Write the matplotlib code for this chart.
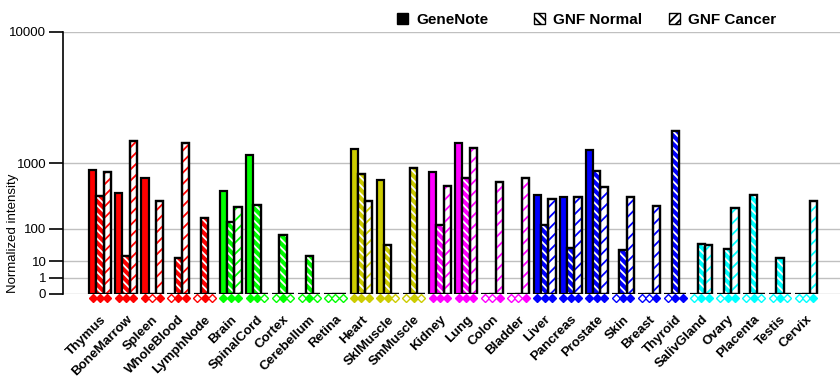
import numpy as np
import matplotlib
matplotlib.use('Agg')
import matplotlib.pyplot as plt
from matplotlib.patches import Patch

plt.rcParams['font.family'] = ['Liberation Sans', 'DejaVu Sans']
plt.rcParams['hatch.linewidth'] = 1.3

tissues = ['Thymus', 'BoneMarrow', 'Spleen', 'WholeBlood', 'LymphNode', 'Brain',
           'SpinalCord', 'Cortex', 'Cerebellum', 'Retina', 'Heart', 'SklMuscle',
           'SmMuscle', 'Kidney', 'Lung', 'Colon', 'Bladder', 'Liver', 'Pancreas',
           'Prostate', 'Skin', 'Breast', 'Thyroid', 'SalivGland', 'Ovary',
           'Placenta', 'Testis', 'Cervix']
colors = ['#ff0000'] * 5 + ['#00ff00'] * 5 + ['#cccc00'] * 3 + ['#ff00ff'] * 4 + \
         ['#0000ff'] * 6 + ['#00ffff'] * 5

genenote = [826, 422, 664, 0, 0, 452, 1212, 0, 0, 0, 1395, 632, 0, 783, 1600,
            0, 0, 397, 367, 1364, 0, 0, 0, 0, 0, 0, 0, 0]
gnf_normal = [378, 17, 0, 14, 165, 138, 279, 70, 16, 0, 743, 38, 889, 118, 664,
              0, 0, 118, 31, 815, 27, 0, 2070, 41, 29, 397, 14, 0]
gnf_cancer = [783, 1677, 323, 1605, 0, 255, 0, 0, 0, 0, 323, 0, 0, 529, 1449,
              597, 671, 346, 371, 513, 371, 268, 0, 38, 246, 0, 0, 319]

# present (1) / absent (0) calls drawn under each group
calls = ['111', '111', '101', '011', '010', '111', '110', '010', '010', '000',
         '111', '110', '010', '111', '111', '001', '001', '111', '111', '111',
         '011', '001', '011', '011', '011', '010', '010', '001']

p = np.log10(2)


def fwd(v):
    v = np.asarray(v, float)
    return np.sign(v) * np.abs(v) ** p


def inv(v):
    v = np.asarray(v, float)
    return np.sign(v) * np.abs(v) ** (1 / p)


fig = plt.figure(figsize=(8.4, 3.85), dpi=100)
ax = fig.add_axes([63 / 840, 1 - 294 / 385, 1 - 63 / 840, 262 / 385])
ax.set_yscale('function', functions=(fwd, inv))

x = np.arange(len(tissues))
w = 0.28
lw = 1.6

# GeneNote: solid
ax.bar(x - w, genenote, w, color=colors, edgecolor='black', linewidth=lw, zorder=3)
# GNF Normal: colour with dense white back-hatch
ax.bar(x, gnf_normal, w, color=colors, edgecolor='black', linewidth=lw, zorder=3)
ax.bar(x, gnf_normal, w, facecolor='none', edgecolor='white', hatch='\\\\\\\\',
       linewidth=0, zorder=4)
ax.bar(x, gnf_normal, w, fill=False, edgecolor='black', linewidth=lw, zorder=5)
# GNF Cancer: white with coloured stripes
ax.bar(x + w, gnf_cancer, w, color='white', edgecolor='black', linewidth=lw, zorder=3)
for xi, v, c in zip(x, gnf_cancer, colors):
    ax.bar(xi + w, v, w, facecolor='none', edgecolor=c, hatch='///', linewidth=0,
           zorder=4)
ax.bar(x + w, gnf_cancer, w, fill=False, edgecolor='black', linewidth=lw, zorder=5)

# call markers
tr = ax.get_xaxis_transform()
for xi, s, c in zip(x, calls, colors):
    for k, flag in enumerate(s):
        ax.plot(xi + (k - 1) * w, -0.016, marker='D', ms=4.0, mew=1,
                mec=c, mfc=c if flag == '1' else 'white',
                transform=tr, clip_on=False, zorder=6)

ax.set_xlim(-1.415, 28.3)
ax.set_ylim(0, 10000)
ax.set_yticks([0, 1, 10, 100, 1000, 10000])
ax.set_yticklabels(['0', '1', '10', '100', '1000', '10000'], fontsize=9.5)
ax.yaxis.grid(True, color='#c0c0c0', linewidth=1)
ax.set_axisbelow(True)
ax.tick_params(axis='y', length=10, width=1.2, pad=2)
ax.set_xticks(x)
ax.set_xticklabels(tissues, rotation=45, ha='right', rotation_mode='anchor',
                   fontweight='bold', fontsize=9.5)
ax.tick_params(axis='x', length=0, pad=14)
for s in ['top', 'right', 'bottom']:
    ax.spines[s].set_visible(False)
ax.spines['left'].set_linewidth(1.2)
ax.set_ylabel('Normalized intensity', fontsize=9.5)
ax.yaxis.set_label_coords(-0.057, 0.233)

handles = [Patch(facecolor='black', edgecolor='black'),
           Patch(facecolor='white', edgecolor='black', hatch='\\\\\\\\'),
           Patch(facecolor='white', edgecolor='black', hatch='////')]
labels = ['GeneNote', 'GNF Normal', 'GNF Cancer']
legend_x = [397, 534, 669]
for h, lab, lx in zip(handles, labels, legend_x):
    leg = fig.legend([h], [lab], loc='center left',
                     bbox_to_anchor=(lx / 840, 1 - 20 / 385), frameon=False,
                     prop={'weight': 'bold', 'size': 11}, handlelength=0.75,
                     handleheight=0.75, handletextpad=0.5, borderpad=0,
                     borderaxespad=0)

fig.savefig('out.png', dpi=100)
